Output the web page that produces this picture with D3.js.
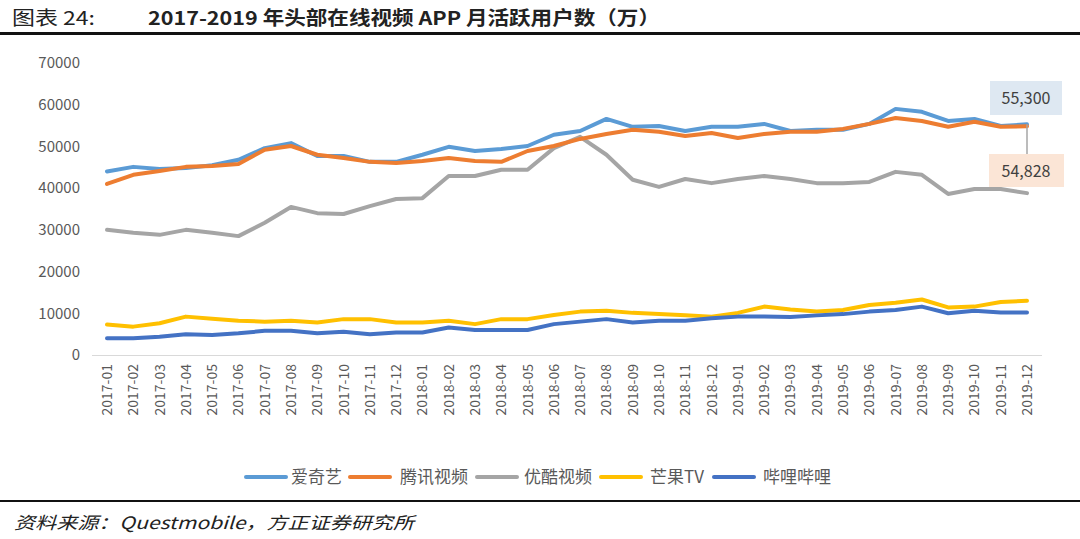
<!DOCTYPE html>
<html><head><meta charset="utf-8">
<script src="https://cdn.jsdelivr.net/npm/d3@7"></script>
<style>
body{margin:0;background:#fff;}
svg{display:block;}
</style></head>
<body>
<svg id="chart" width="1080" height="539"></svg>
<script>
const months = ["2017-01","2017-02","2017-03","2017-04","2017-05","2017-06","2017-07","2017-08","2017-09","2017-10","2017-11","2017-12",
"2018-01","2018-02","2018-03","2018-04","2018-05","2018-06","2018-07","2018-08","2018-09","2018-10","2018-11","2018-12",
"2019-01","2019-02","2019-03","2019-04","2019-05","2019-06","2019-07","2019-08","2019-09","2019-10","2019-11","2019-12"];
const iqiyi = [44000,45100,44600,44800,45500,46800,49600,50800,47700,47700,46300,46300,48000,49900,48900,49400,50100,52800,53700,56600,54700,54900,53700,54700,54700,55400,53700,54000,54000,55400,59000,58300,56100,56600,54900,55300];
const tencent = [41000,43200,44100,45100,45300,45800,49200,50100,48000,47200,46300,46000,46500,47200,46500,46300,48900,50100,51800,53000,54000,53500,52500,53200,52000,53000,53500,53500,54200,55400,56800,56100,54700,55900,54700,54828];
const youku = [30000,29300,28800,30000,29300,28500,31700,35500,34000,33800,35700,37400,37600,42900,42900,44400,44400,49600,52300,48000,42000,40300,42200,41200,42200,42900,42200,41200,41200,41500,43900,43200,38600,39800,39800,38800];
const mango = [7300,6800,7600,9200,8700,8200,8000,8200,7800,8600,8600,7800,7800,8200,7400,8600,8600,9600,10400,10600,10100,9800,9500,9200,10100,11600,10900,10400,10800,12000,12500,13300,11400,11600,12700,13000];
const bilibili = [4000,4000,4400,5000,4800,5200,5800,5800,5200,5600,5000,5400,5400,6600,6000,6000,6000,7400,8000,8600,7800,8200,8200,8800,9200,9200,9100,9500,9800,10400,10800,11600,10000,10600,10200,10200];
const seriesNames = ["爱奇艺","腾讯视频","优酷视频","芒果TV","哔哩哔哩"];
const seriesColors = ["#5B9BD5","#ED7D31","#A5A5A5","#FFC000","#4472C4"];
const yTicks = [0,10000,20000,30000,40000,50000,60000,70000];
const calloutLabels = ["55,300","54,828"];

const series = [iqiyi, tencent, youku, mango, bilibili];
const svg = d3.select("#chart");
const font = "'Microsoft YaHei','Noto Sans CJK SC','Noto Sans',sans-serif";

// Title
svg.append("text").attr("x",12).attr("y",25).attr("font-family","'Noto Sans CJK SC',sans-serif")
  .attr("font-size",19).attr("fill","#222").attr("textLength",83).attr("lengthAdjust","spacingAndGlyphs").text("图表 24:");
svg.append("text").attr("x",148).attr("y",25).attr("font-family","'Noto Sans CJK SC',sans-serif")
  .attr("font-size",19).attr("font-weight","bold").attr("fill","#222")
  .attr("textLength",512).attr("lengthAdjust","spacingAndGlyphs")
  .text("2017-2019 年头部在线视频 APP 月活跃用户数（万）");
svg.append("rect").attr("x",0).attr("y",32).attr("width",1080).attr("height",3).attr("fill","#111");

// Scales
const x = d3.scalePoint().domain(months).range([107,1027]);
const y = d3.scaleLinear().domain([0,70000]).range([355,63]);

// Y axis labels
svg.append("g").selectAll("text").data(yTicks).join("text")
  .attr("x",80).attr("y",d=>y(d)).attr("dy","0.35em").attr("text-anchor","end")
  .attr("font-family",font).attr("font-size",15).attr("fill","#595959").text(d=>d);

// X axis line
svg.append("line").attr("x1",92).attr("x2",1042).attr("y1",355.5).attr("y2",355.5)
  .attr("stroke","#d9d9d9").attr("stroke-width",1);

// X labels
svg.append("g").selectAll("text").data(months).join("text")
  .attr("transform",d=>`translate(${x(d)+5},364) rotate(-90)`)
  .attr("text-anchor","end").attr("font-family",font).attr("font-size",14).attr("fill","#595959").text(d=>d);

// Lines
const line = d3.line().x((d,i)=>x(months[i])).y(d=>y(d));
const drawOrder = [2,3,4,0,1];
drawOrder.forEach(k=>{
  svg.append("path").datum(series[k]).attr("d",line).attr("fill","none")
    .attr("stroke",seriesColors[k]).attr("stroke-width",4).attr("stroke-linejoin","round").attr("stroke-linecap","round");
});

// Callouts
const lastX = x(months[35]);
svg.append("line").attr("x1",lastX).attr("x2",lastX).attr("y1",y(iqiyi[35])).attr("y2",158)
  .attr("stroke","#a6a6a6").attr("stroke-width",1.5);
svg.append("rect").attr("x",990).attr("y",81).attr("width",72).attr("height",34).attr("fill","#DEE8F2");
svg.append("text").attr("x",1026).attr("y",98).attr("dy","0.35em").attr("text-anchor","middle")
  .attr("font-family",font).attr("font-size",16).attr("fill","#404040").text(calloutLabels[0]);
svg.append("rect").attr("x",989).attr("y",154).attr("width",75).attr("height",33).attr("fill","#FBE5D6");
svg.append("text").attr("x",1026).attr("y",171).attr("dy","0.35em").attr("text-anchor","middle")
  .attr("font-family",font).attr("font-size",16).attr("fill","#404040").text(calloutLabels[1]);

// Legend
const lgLine = [244,348,475,599,712];
const lgText = [291,400,524,650,763];
const lg = svg.append("g");
seriesNames.forEach((n,i)=>{
  lg.append("line").attr("x1",lgLine[i]+2).attr("x2",lgLine[i]+42).attr("y1",477).attr("y2",477)
    .attr("stroke",seriesColors[i]).attr("stroke-width",4).attr("stroke-linecap","round");
  lg.append("text").attr("x",lgText[i]).attr("y",477).attr("dy","0.35em")
    .attr("font-family",font).attr("font-size",17).attr("fill","#595959").text(n);
});

// Bottom rule and source
svg.append("rect").attr("x",0).attr("y",500).attr("width",1080).attr("height",2).attr("fill","#111");
svg.append("text").attr("x",14).attr("y",529).attr("font-family","'Noto Sans CJK SC',sans-serif")
  .attr("font-size",17).attr("font-style","italic").attr("fill","#222")
  .attr("textLength",400).attr("lengthAdjust","spacingAndGlyphs")
  .text("资料来源：Questmobile，方正证券研究所");
</script>
</body></html>
